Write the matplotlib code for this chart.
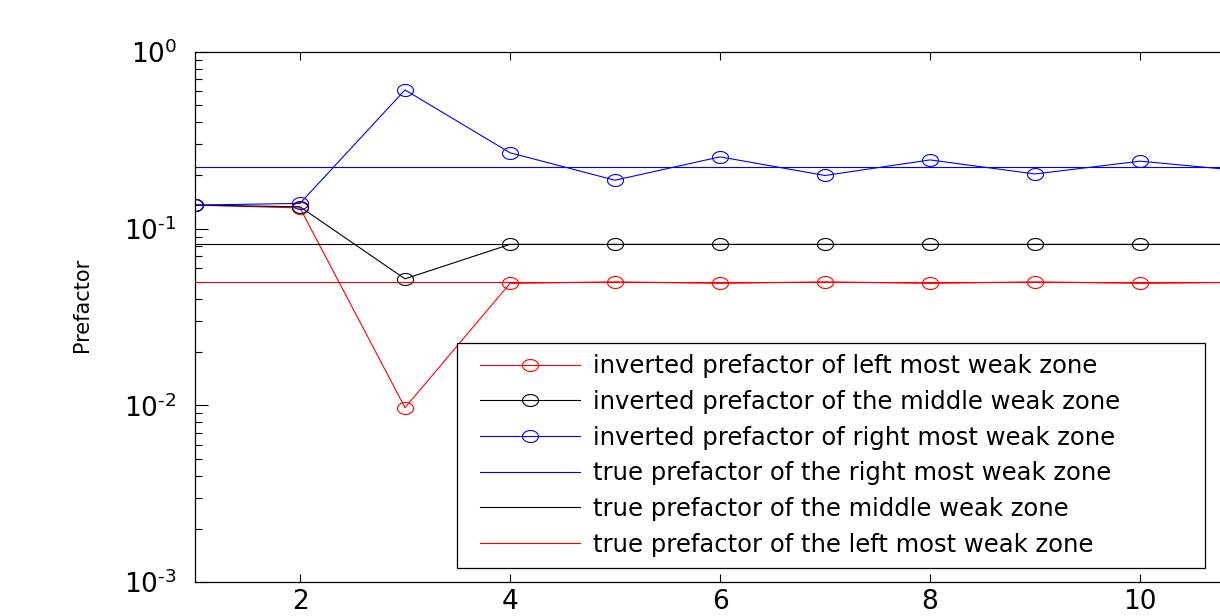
"""Prefactor inversion vs. iteration, redrawn from the reference figure."""

import matplotlib
import numpy as np

matplotlib.use("Agg")
import matplotlib.pyplot as plt
from matplotlib.legend_handler import HandlerLine2D
from matplotlib.lines import Line2D
from matplotlib.path import Path
from matplotlib.ticker import FixedLocator, FuncFormatter

plt.rcParams["font.family"] = ["DejaVu Sans"]
plt.rcParams["mathtext.fontset"] = "dejavusans"

# iterations
ITER = [1, 2, 3, 4, 5, 6, 7, 8, 9, 10, 11]

# inverted prefactors
INV_LEFT = [0.136, 0.131, 0.0097, 0.049, 0.050, 0.049, 0.050, 0.049, 0.050, 0.049, 0.0497]
INV_MIDDLE = [0.136, 0.133, 0.052, 0.0815, 0.0815, 0.0815, 0.0815, 0.0815, 0.0815, 0.0815, 0.0815]
INV_RIGHT = [0.136, 0.139, 0.61, 0.269, 0.188, 0.255, 0.200, 0.245, 0.204, 0.241, 0.212]

# true prefactors
TRUE_RIGHT = 0.224
TRUE_MIDDLE = 0.0815
TRUE_LEFT = 0.050

LABELS = [
    "inverted prefactor of left most weak zone",
    "inverted prefactor of the middle weak zone",
    "inverted prefactor of right most weak zone",
    "true prefactor of the right most weak zone",
    "true prefactor of the middle weak zone",
    "true prefactor of the left most weak zone",
]

X_TICKS = [2, 4, 6, 8, 10]
Y_DECADES = [-3, -2, -1, 0]

# MATLAB draws its 'o' marker as a slightly flattened ellipse
_t = np.linspace(0, 2 * np.pi, 41)
ELLIPSE = Path(np.column_stack([np.cos(_t), 0.75 * np.sin(_t)]), closed=True)


def _decade(v, pos):
    # MATLAB-style label, short hyphen in the exponent
    e = int(round(np.log10(v)))
    return r"$10^{\text{%d}}$" % e


W, H = 1220, 616
fig = plt.figure(figsize=(W / 100, H / 100), dpi=100)
# axes runs past the right edge of the picture, like the cropped original
ax = fig.add_axes([195 / W, (H - 582) / H, 1050 / W, 530 / H])

lw = 0.8
mk = dict(marker=ELLIPSE, ms=11.5, mfc="none", mew=0.8)
ax.plot(ITER, INV_LEFT, color="red", lw=lw, label=LABELS[0], **mk)
ax.plot(ITER, INV_MIDDLE, color="black", lw=lw, label=LABELS[1], **mk)
ax.plot(ITER, INV_RIGHT, color="blue", lw=lw, label=LABELS[2], **mk)
ax.axhline(TRUE_RIGHT, color="blue", lw=lw, label=LABELS[3])
ax.axhline(TRUE_MIDDLE, color="black", lw=lw, label=LABELS[4])
ax.axhline(TRUE_LEFT, color="red", lw=lw, label=LABELS[5])

ax.set_yscale("log")
ax.set_ylim(1e-3, 1e0)
ax.set_xlim(1, 11)
ax.set_xticks(X_TICKS)
ax.yaxis.set_major_locator(FixedLocator([10.0 ** d for d in Y_DECADES]))
ax.yaxis.set_major_formatter(FuncFormatter(_decade))

ax.tick_params(axis="both", which="major", direction="in", labelsize=19, width=0.8)
ax.tick_params(axis="x", top=True, length=6, pad=5)
ax.tick_params(axis="y", which="major", length=9, pad=13)
ax.tick_params(axis="y", which="minor", direction="in", length=5, width=0.8)
for sp in ax.spines.values():
    sp.set_linewidth(0.9)

ax.set_ylabel("Prefactor", fontsize=15)
ax.yaxis.set_label_coords(-0.098, 0.523)

leg = ax.legend(
    loc="upper left",
    bbox_to_anchor=(457 / W, (H - 566) / H, 748 / W, 223 / H),
    bbox_transform=fig.transFigure,
    mode="expand",
    fontsize=17.5,
    frameon=True,
    fancybox=False,
    edgecolor="black",
    framealpha=1,
    handlelength=4.6,
    handletextpad=0.53,
    labelspacing=0.48,
    borderpad=0.46,
    borderaxespad=0,
    handler_map={Line2D: HandlerLine2D(xpad=0.5)},
)
leg.get_frame().set_linewidth(0.9)

fig.savefig("out.png", dpi=100)
